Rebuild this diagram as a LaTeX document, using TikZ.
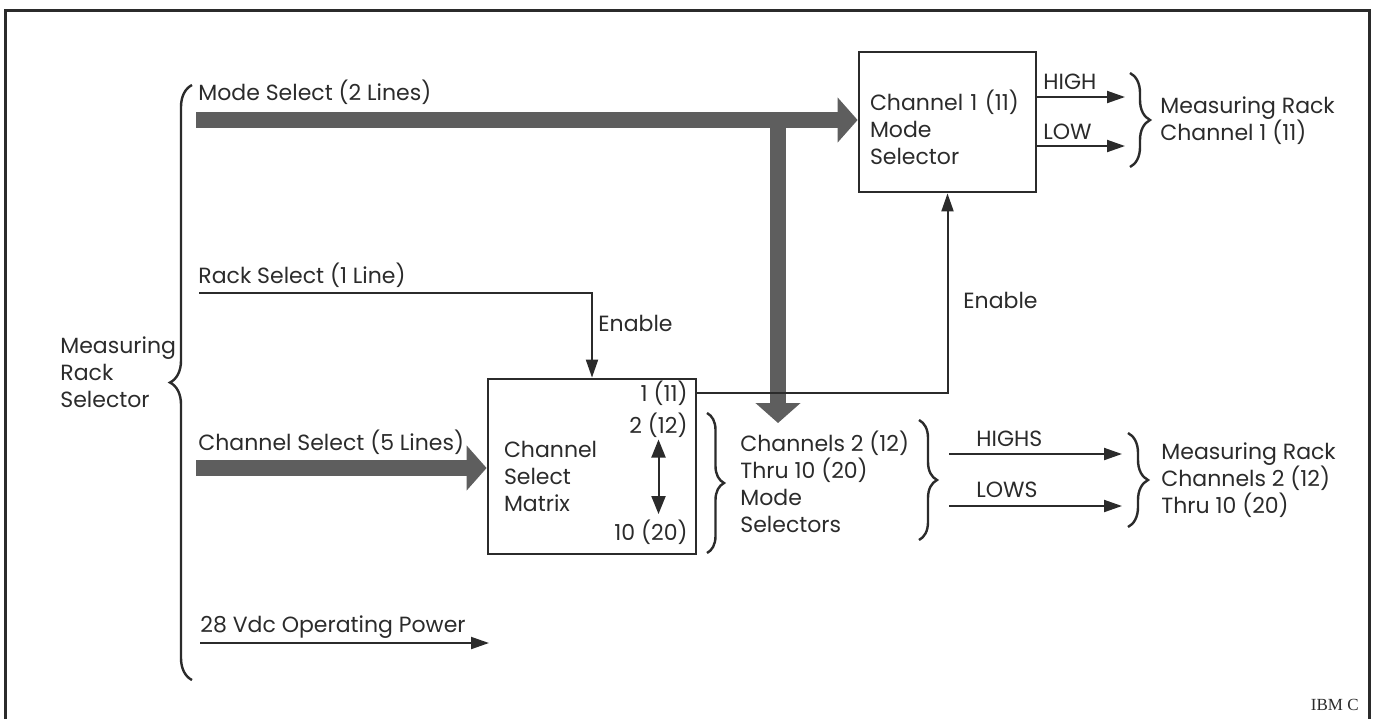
\documentclass[tikz,border=0pt]{standalone}
\usepackage{fontspec}
\setmainfont{Poppins}
\newfontfamily\ibmfont{Liberation Serif}
\usetikzlibrary{arrows.meta,decorations.pathreplacing}
\definecolor{ink}{HTML}{2B2B2B}
\definecolor{busgray}{HTML}{5E5E5E}

\begin{document}
\begin{tikzpicture}[x=0.5pt,y=-0.5pt,
  lbl/.style={inner sep=0pt, text=ink, align=left, anchor=base west,
    font=\fontsize{11}{13.5}\selectfont},
  blk/.style={draw=ink, line width=1.4pt, text=ink, align=left, inner ysep=0pt,
    font=\fontsize{11}{13.5}\selectfont},
  bus/.style={draw=busgray, line width=8pt, -{Triangle[length=10pt,width=22pt]}},
  sig/.style={draw=ink, line width=1pt, -{Triangle[length=9pt,width=6pt]}},
  brc/.style={draw=ink, line width=1.2pt, decorate, decoration={brace,amplitude=#1}}]
  \useasboundingbox (0,0) rectangle (1374,719);
  \draw[ink, line width=1.5pt] (5,719) -- (5,10) -- (1369,10) -- (1369,719);

  % inputs on the left (multi-line labels sit on their last line)
  \node[lbl] (mrs) at (60,407) {Measuring\\Rack\\Selector};
  \draw[brc=11pt] (192,680) -- (192,85);
  \node[lbl] (msl) at (198,100) {Mode Select (2 Lines)};
  \node[lbl] (rsl) at (198,283) {Rack Select (1 Line)};
  \node[lbl] (csl) at (198,450) {Channel Select (5 Lines)};
  \node[lbl] (pwr) at (200,632) {28 Vdc Operating Power};

  % blocks
  \node[blk, minimum width=88.5pt, minimum height=70pt, text width=77.5pt,
    inner xsep=5.5pt] (msel1) at (947.5,122) {\rule{0pt}{16pt}Channel 1 (11)\\Mode\\Selector};
  \node[blk, minimum width=104pt, minimum height=87.5pt, text width=88pt,
    inner xsep=8pt] (cmx) at (592,466.5) {\rule{0pt}{18.5pt}Channel\\Select\\Matrix};
  \node[lbl, anchor=base east] (o1) at (688,401) {1 (11)};
  \node[lbl, anchor=base east] (o2) at (688,433) {2 (12)};
  \node[lbl, anchor=base east] (o10) at (688,540) {10 (20)};
  \draw[ink, line width=1pt, {Triangle[length=9pt,width=7pt]}-{Triangle[length=9pt,width=7pt]},
    shorten <=1pt, shorten >=2.5pt] (o2.south) -- (o2.south |- o10.north);

  \node[lbl] (msel2) at (740,532) {Channels 2 (12)\\Thru 10 (20)\\Mode\\Selectors};
  \draw[brc=8.5pt] (707,413) -- (707,553);
  \draw[brc=9pt] (919,420) -- (919,540);

  % wide buses
  \coordinate (ms0) at (196,120);
  \coordinate (mj) at (778,114);
  \coordinate (mt) at (778,423);
  \coordinate (cs0) at (196,468);
  \draw[bus] (ms0) -- (ms0 -| msel1.west);
  \draw[bus] (mj) -- (mt);
  \draw[bus] (cs0) -- (cs0 -| cmx.west);

  % enable lines
  \coordinate (rs0) at (199,293);
  \draw[sig] (rs0) -| (cmx.north);
  \node[lbl] (en1) at (598,331) {Enable};
  \draw[sig] (o1.east -| cmx.east) -| (msel1.south);
  \node[lbl] (en2) at (963,308) {Enable};

  \coordinate (pw0) at (200,643);
  \coordinate (pwend) at (489,643);
  \draw[sig] (pw0) -- (pwend);

  % outputs
  \coordinate (hiend) at (1125,97);
  \coordinate (loend) at (1125,146);
  \draw[sig] (msel1.east |- hiend) -- (hiend);
  \draw[sig] (msel1.east |- loend) -- (loend);
  \node[lbl] (hi) at (1043,89) {HIGH};
  \node[lbl] (lo) at (1043,139) {LOW};
  \draw[brc=10pt] (1130,73) -- (1130,167);
  \node[lbl] (mr1) at (1160,140) {Measuring Rack\\Channel 1 (11)};

  \coordinate (his0) at (949,454);
  \coordinate (hisend) at (1122,454);
  \coordinate (los0) at (949,506);
  \coordinate (losend) at (1122,506);
  \draw[sig] (his0) -- (hisend);
  \draw[sig] (los0) -- (losend);
  \node[lbl] (his) at (976,446) {HIGHS};
  \node[lbl] (los) at (976,497) {LOWS};
  \draw[brc=10pt] (1128,433) -- (1128,527);
  \node[lbl] (mr2) at (1161,513) {Measuring Rack\\Channels 2 (12)\\Thru 10 (20)};

  \node[inner sep=0pt, anchor=base east, text=ink,
    font=\ibmfont\fontsize{8.5}{10}\selectfont] (ibm) at (1359,710) {IBM C};
\end{tikzpicture}
\end{document}
